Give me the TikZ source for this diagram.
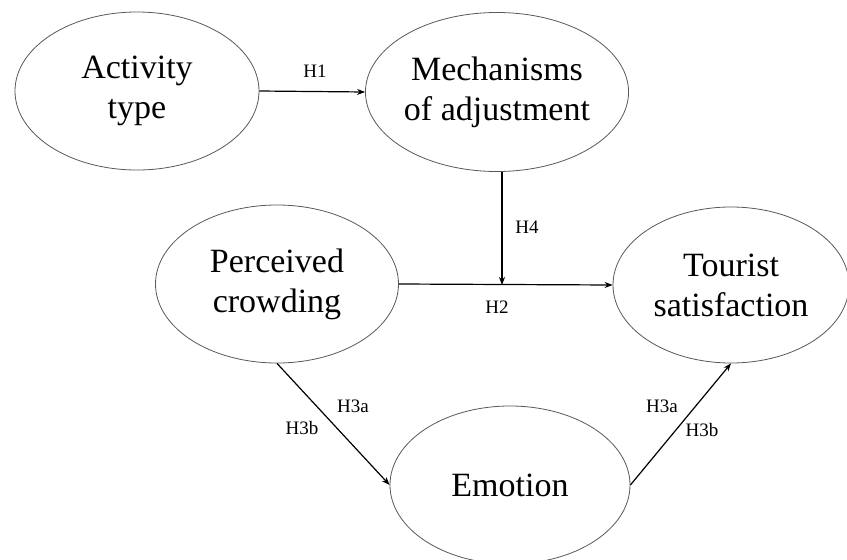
\documentclass[tikz,border=0pt]{standalone}
\usepackage{fontspec}
\setmainfont{Liberation Serif}
\usetikzlibrary{shapes.geometric,arrows.meta}
\begin{document}
\begin{tikzpicture}[x=1pt,y=-1pt,
  var/.style={ellipse,draw=black!65,line width=0.8pt,inner sep=0pt,align=center,
    font=\fontsize{34}{40}\selectfont},
  link/.style={line width=1.2pt,-{Stealth[length=8pt,width=6pt]}},
  hlab/.style={font=\fontsize{19}{22}\selectfont,inner sep=0pt}]
\useasboundingbox[fill=white] (0,0) rectangle (847,560);
\node[var,minimum width=244pt,minimum height=158pt] (act) at (137,91) {Activity\\type};
\node[var,minimum width=245pt,minimum height=159pt] (mech) at (497,92) {Mechanisms\\of adjustment};
\node[var,minimum width=243pt,minimum height=158pt] (crowd) at (277,284) {Perceived\\crowding};
\node[var,minimum width=236pt,minimum height=156pt] (tour) at (731,285) {Tourist\\satisfaction};
\node[var,minimum width=240pt,minimum height=158pt] (emo) at (510,485) {Emotion};
\coordinate (j) at (502,285);
\draw[link] (act.east) -- (mech.west);
\draw[link] (crowd.east) -- (tour.west);
\draw[link] (j |- mech.south) -- (j);
\draw[link] (crowd.south) -- (emo.west);
\draw[link] (emo.east) -- (tour.south);
\node[hlab] (h1) at (315,71) {H1};
\node[hlab] (h4) at (527,227) {H4};
\node[hlab] (h2) at (497,307) {H2};
\node[hlab] (h3a1) at (353,406) {H3a};
\node[hlab] (h3b1) at (302,428) {H3b};
\node[hlab] (h3a2) at (662,406) {H3a};
\node[hlab] (h3b2) at (702,430) {H3b};
\end{tikzpicture}
\end{document}
